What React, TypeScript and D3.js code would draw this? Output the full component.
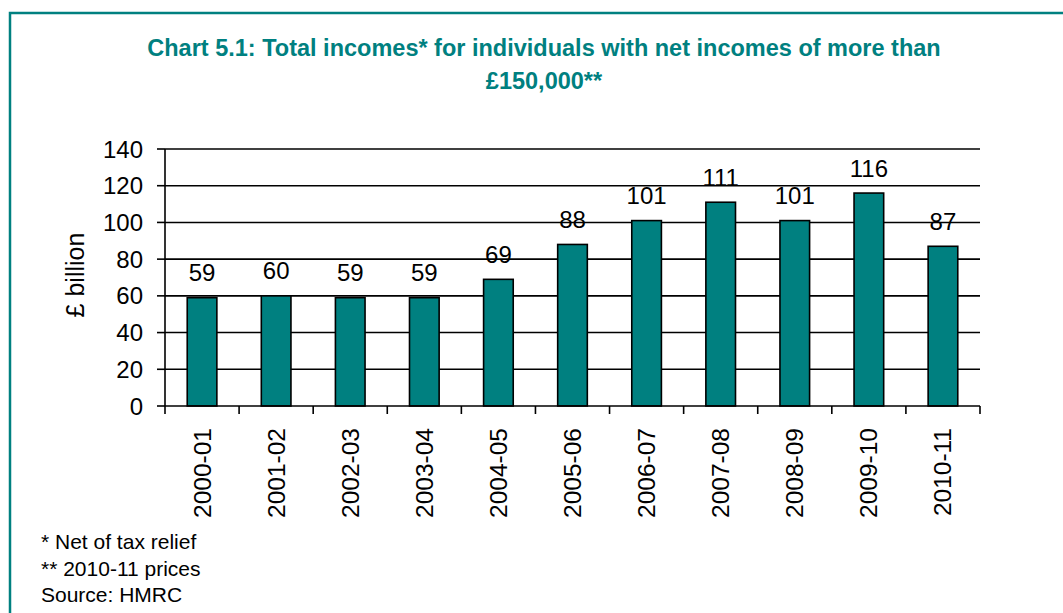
import React from "react";
import * as d3 from "d3";

const categories = ["2000-01","2001-02","2002-03","2003-04","2004-05","2005-06","2006-07","2007-08","2008-09","2009-10","2010-11"];
const values = [59, 60, 59, 59, 69, 88, 101, 111, 101, 116, 87];
const yTicks = [0, 20, 40, 60, 80, 100, 120, 140];
const titleLines = ["Chart 5.1: Total incomes* for individuals with net incomes of more than", "£150,000**"];
const footnotes = ["* Net of tax relief", "** 2010-11 prices", "Source: HMRC"];

const W = 1063, H = 613;
const left = 165, right = 980, top = 149, bottom = 406;
const teal = "#008080";
const font = "'Liberation Sans', Arial, sans-serif";

export default function App() {
  const x = d3.scaleBand<string>().domain(categories).range([left, right]).paddingInner(0.6).paddingOuter(0.3);
  const y = d3.scaleLinear().domain([0, 140]).range([bottom, top]);
  const step = x.step();
  const boundaries = d3.range(categories.length + 1).map(i => left + i * step);
  return (
    <svg width={W} height={H} style={{ position: "absolute", left: 0, top: 0, background: "#fff" }} fontFamily={font}>
      <rect x={10} y={13} width={1100} height={700} fill="#fff" stroke={teal} strokeWidth={2.5} />
      {titleLines.map((t, i) => (
        <text key={i} x={544} y={56 + i * 32.5} textAnchor="middle" fontWeight="bold" fontSize={23.5} fill={teal}>{t}</text>
      ))}
      {yTicks.filter(v => v > 0).map(v => (
        <line key={v} x1={left} x2={right} y1={y(v)} y2={y(v)} stroke="#000" strokeWidth={1.6} />
      ))}
      {categories.map((c, i) => (
        <rect key={c} x={x(c)} y={y(values[i])} width={x.bandwidth()} height={y(0) - y(values[i])} fill={teal} stroke="#000" strokeWidth={1.6} />
      ))}
      <line x1={left} x2={left} y1={top} y2={bottom} stroke="#000" strokeWidth={1.6} />
      <line x1={left} x2={right} y1={bottom} y2={bottom} stroke="#000" strokeWidth={1.6} />
      {yTicks.map(v => (
        <g key={v}>
          <line x1={left - 8} x2={left} y1={y(v)} y2={y(v)} stroke="#000" strokeWidth={1.6} />
          <text x={143} y={y(v)} textAnchor="end" dominantBaseline="central" fontSize={24} fill="#000">{v}</text>
        </g>
      ))}
      {boundaries.map((b, i) => (
        <line key={i} x1={b} x2={b} y1={bottom} y2={bottom + 8} stroke="#000" strokeWidth={1.6} />
      ))}
      {categories.map((c, i) => {
        const cx = (x(c) as number) + x.bandwidth() / 2;
        return (
          <g key={c}>
            <text x={cx} y={y(values[i]) - 16.5} textAnchor="middle" fontSize={24} fill="#000">{values[i]}</text>
            <text transform={`translate(${cx},428) rotate(-90)`} textAnchor="end" dominantBaseline="central" fontSize={24.5} fill="#000">{c}</text>
          </g>
        );
      })}
      <text transform="translate(75,275) rotate(-90)" textAnchor="middle" dominantBaseline="central" fontSize={25} fill="#000">£ billion</text>
      {footnotes.map((f, i) => (
        <text key={i} x={41} y={549 + i * 26.5} fontSize={21} fill="#000">{f}</text>
      ))}
    </svg>
  );
}
